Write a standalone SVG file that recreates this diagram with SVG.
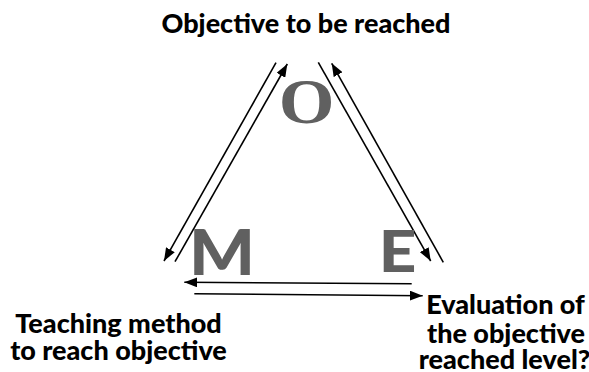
<svg xmlns="http://www.w3.org/2000/svg" width="589" height="372" viewBox="0 0 589 372">
<defs>
<marker id="ah" markerWidth="14" markerHeight="10" refX="13" refY="5" orient="auto" markerUnits="userSpaceOnUse">
<path d="M0,0 L13,5 L0,10 Z" fill="#000"/>
</marker>
<style>
.c{stroke:#000;stroke-width:1.6;fill:none;marker-end:url(#ah)}
.big{fill:#606060;font-weight:900;text-anchor:middle}
.lbl{font-family:Lato,"Open Sans",sans-serif;font-weight:900;font-size:27px;fill:#000;text-anchor:middle}
</style>
</defs>
<rect width="589" height="372" fill="#fff"/>
<g id="connectors">
<line class="c" x1="276" y1="62.7" x2="164" y2="261"/>
<line class="c" x1="175" y1="261.7" x2="287.3" y2="64"/>
<line class="c" x1="318.3" y1="62.3" x2="430.7" y2="261"/>
<line class="c" x1="443.3" y1="262.3" x2="331.7" y2="63.3"/>
<line class="c" x1="411.7" y1="283.7" x2="184.3" y2="282.3"/>
<line class="c" x1="194.3" y1="293.7" x2="422.7" y2="295.7"/>
</g>
<g id="node-O">
<text class="big" transform="translate(306.5,123) scale(1.12,1)" font-family="Liberation Serif,serif" font-size="64">O</text>
<text class="lbl" x="306" y="33" font-size="25">Objective to be reached</text>
</g>
<g id="node-M">
<text class="big" transform="translate(222,275) scale(1.12,1)" font-family="Lato,sans-serif" font-size="62">M</text>
<text class="lbl" x="118.5" y="333">Teaching method</text>
<text class="lbl" x="118.5" y="360">to reach objective</text>
</g>
<g id="node-E">
<text class="big" transform="translate(397.5,272) scale(1.15,1)" font-family="Lato,sans-serif" font-size="57">E</text>
<text class="lbl" x="505.5" y="314">Evaluation of</text>
<text class="lbl" x="506" y="343">the objective</text>
<text class="lbl" x="504.5" y="369">reached level?</text>
</g>
</svg>
